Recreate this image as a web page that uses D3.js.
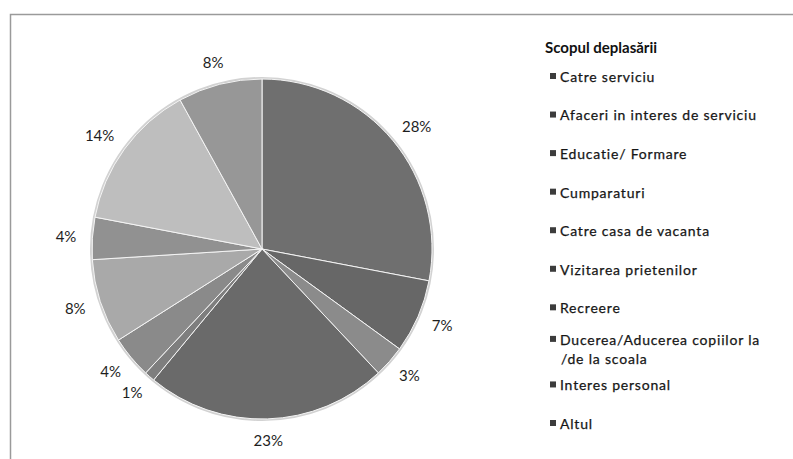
<!DOCTYPE html>
<html>
<head>
<meta charset="utf-8">
<script src="https://cdn.jsdelivr.net/npm/d3@7"></script>
<style>
  body { margin: 0; background: #fff; }
  svg { display: block; }
</style>
</head>
<body>
<svg id="chart" width="793" height="459"></svg>
<script>
// date
const categories = ["Catre serviciu", "Afaceri in interes de serviciu", "Educatie/ Formare",
  "Cumparaturi", "Catre casa de vacanta", "Vizitarea prietenilor", "Recreere",
  "Ducerea/Aducerea copiilor la /de la scoala", "Interes personal", "Altul"]
const shares = [28, 7, 3, 23, 1, 4, 8, 4, 14, 8]
const greys = ["#6f6f6f", "#676767", "#8b8b8b", "#6a6a6a", "#7e7e7e",
  "#8a8a8a", "#a9a9a9", "#919191", "#bebebe", "#979797"]
const legendTitle = "Scopul deplasării"

const width = 793, height = 459
const cx = 262, cy = 249, radius = 170

const svg = d3.select("#chart")
  .style("font-family", "Lato, 'Open Sans', sans-serif")

// rama
svg.append("path")
  .attr("d", `M10.5,${height} V14.5 H${width}`)
  .attr("fill", "none")
  .attr("stroke", "#9a9a9a")
  .attr("stroke-width", 1.5)

const pie = d3.pie().sort(null)
const arcs = pie(shares)

const arc = d3.arc().innerRadius(0).outerRadius(radius)
const labelArc = d3.arc().innerRadius(186).outerRadius(186)

const g = svg.append("g").attr("transform", `translate(${cx},${cy})`)

// umbra discreta
g.append("circle")
  .attr("r", radius + 1)
  .attr("fill", "none")
  .attr("stroke", "#d2d2d2")
  .attr("stroke-width", 2)

g.selectAll("path.slice")
  .data(arcs)
  .join("path")
    .attr("class", "slice")
    .attr("d", arc)
    .attr("fill", (d, i) => greys[i])
    .attr("stroke", "#f4f4f4")
    .attr("stroke-width", 1)

// etichete in afara, cu coltul cel mai apropiat langa cerc
const pct = g.selectAll("text.pct")
  .data(arcs)
  .join("text")
    .attr("class", "pct")
    .attr("text-anchor", "middle")
    .attr("dy", "0.35em")
    .style("font-size", "15px")
    .attr("fill", "#1e1e1e")
    .text(d => d.data + "%")

pct.attr("transform", function(d) {
  const [x, y] = labelArc.centroid(d)
  const a = (d.startAngle + d.endAngle) / 2
  const b = this.getBBox()
  return `translate(${x + b.width / 2 * Math.sin(a)},${y - 6 * Math.cos(a)})`
})

// legenda
const legend = svg.append("g").attr("transform", "translate(545,0)")

legend.append("text")
  .attr("x", 0)
  .attr("y", 53)
  .style("font-size", "15px")
  .style("font-weight", "bold")
  .attr("fill", "#111")
  .text(legendTitle)

const rowY = d3.scalePoint()
  .domain(d3.range(categories.length))
  .range([77, 424])

const item = legend.selectAll("g.item")
  .data(categories)
  .join("g")
    .attr("class", "item")
    .attr("transform", (d, i) => `translate(0,${rowY(i)})`)

item.append("rect")
  .attr("x", 5)
  .attr("y", -4)
  .attr("width", 6)
  .attr("height", 6)
  .attr("fill", "#3c3c3c")

item.each(function(d, i) {
  const t = d3.select(this).append("text")
    .attr("x", 15)
    .attr("y", 0)
    .attr("dy", "0.35em")
    .style("font-size", "14px")
    .style("letter-spacing", "0.8px")
    .attr("fill", "#161616")
    .attr("stroke", "#161616")
    .attr("stroke-width", 0.25)
  if (i === 7) {
    // rand rupt ca in original
    t.attr("y", -7)
    t.append("tspan").attr("x", 15).text("Ducerea/Aducerea copiilor la")
    t.append("tspan").attr("x", 16).attr("dy", "1.35em").text("/de la scoala")
    d3.select(this).select("rect").attr("y", -11)
  } else {
    t.text(d)
  }
})
</script>
</body>
</html>
